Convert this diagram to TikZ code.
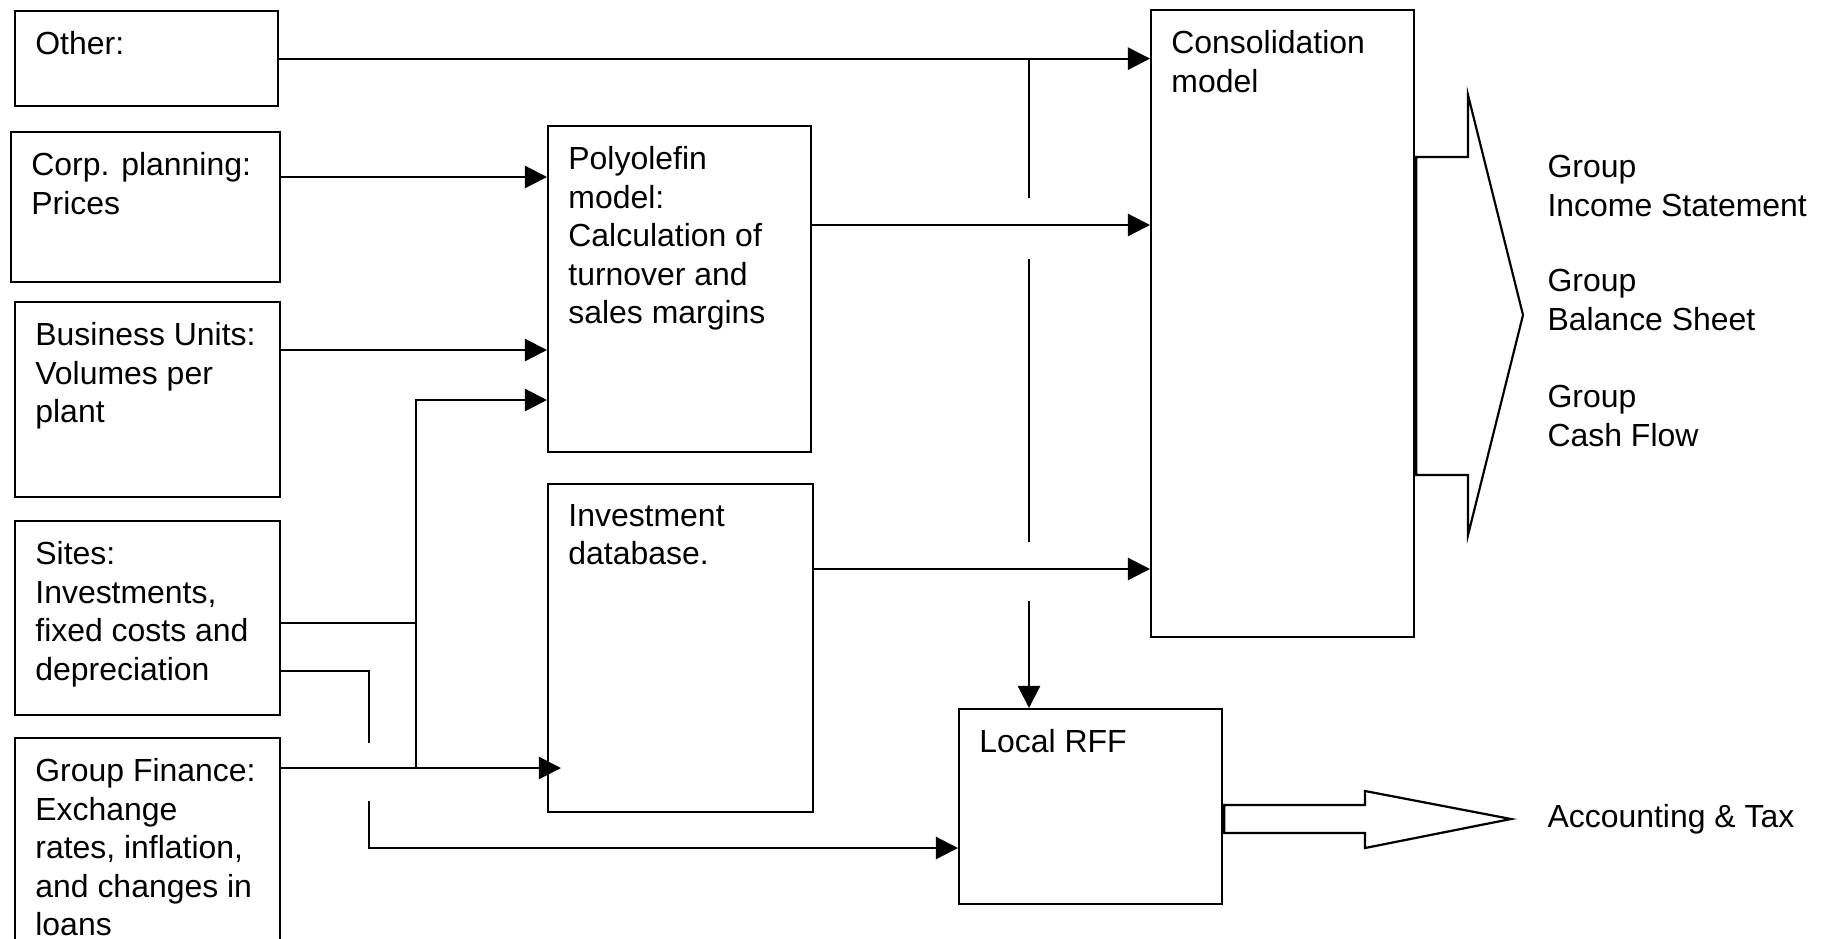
\documentclass[tikz,border=0pt]{standalone}
\usepackage{fontspec}
\setmainfont{Liberation Sans}
\usepackage{tikz}
\usetikzlibrary{arrows.meta,positioning}

\begin{document}
\begin{tikzpicture}[
    x=0.36pt, y=-0.36pt,
    font=\fontsize{11.5}{13.86}\selectfont,
    box/.style={rectangle, draw, line width=0.8pt, anchor=north west, inner sep=0pt},
    txt/.style={align=left, inner sep=7.5pt},
    result/.style={align=left, anchor=west, inner sep=0pt},
    link/.style={line width=0.8pt},
    arrow/.style={link, -{Triangle[length=8pt, width=8pt]}},
    fat/.style={draw, line width=0.8pt, line join=miter}
]
    \useasboundingbox (0,0) rectangle (1829,938);

    % sources
    \node[box, minimum width=94.68pt, minimum height=34.2pt] (other) at (14,10) {};
    \node[box, minimum width=96.84pt, minimum height=54pt] (corp) at (10,131) {};
    \node[box, minimum width=95.4pt, minimum height=70.2pt] (bu) at (14,301) {};
    \node[box, minimum width=95.4pt, minimum height=69.84pt] (sites) at (14,520) {};
    \node[box, minimum width=95.4pt, minimum height=74.52pt] (gf) at (14,737) {};

    % models
    \node[box, minimum width=94.68pt, minimum height=117.36pt] (poly) at (547,125) {};
    \node[box, minimum width=95.4pt, minimum height=118.08pt] (invest) at (547,483) {};
    \node[box, minimum width=94.68pt, minimum height=225.72pt] (consol) at (1150,9) {};
    \node[box, minimum width=94.68pt, minimum height=70.2pt] (rff) at (958,708) {};

    % box texts
    \node[txt, below right=0pt of other.north west] (other-t) {Other:};
    \node[txt, below right=0pt of corp.north west] (corp-t) {Corp. planning:\\Prices};
    \node[txt, below right=0pt of bu.north west] (bu-t) {Business Units:\\Volumes per\\plant};
    \node[txt, below right=0pt of sites.north west] (sites-t) {Sites:\\Investments,\\fixed costs and\\depreciation};
    \node[txt, below right=0pt of gf.north west] (gf-t) {Group Finance:\\Exchange\\rates, inflation,\\and changes in\\loans};
    \node[txt, below right=0pt of poly.north west] (poly-t) {Polyolefin\\model:\\Calculation of\\turnover and\\sales margins};
    \node[txt, below right=0pt of invest.north west] (invest-t) {Investment\\database.};
    \node[txt, below right=0pt of consol.north west] (consol-t) {Consolidation\\model};
    \node[txt, below right=0pt of rff.north west] (rff-t) {Local RFF};

    % outputs
    \node[result] (res-is) at (1547,186) {Group\\Income Statement};
    \node[result] (res-bs) at (1547,300) {Group\\Balance Sheet};
    \node[result] (res-cf) at (1547,416) {Group\\Cash Flow};
    \node[result] (res-at) at (1547,819) {Accounting \& Tax};

    \coordinate (jx) at (416,400);
    \coordinate (gfend) at (561,768);
    \coordinate (hop1) at (369,743);
    \coordinate (hop2) at (369,801);

    % feeds
    \draw[arrow] (other.east) -- (other.east -| consol.west);
    \draw[arrow] (corp.east |- 0,177) -- (poly.west |- 0,177);
    \draw[arrow] (bu.east |- 0,350) -- (poly.west |- 0,350);
    \draw[arrow] (poly.east |- 0,225) -- (consol.west |- 0,225);
    \draw[arrow] (invest.east |- 0,569) -- (consol.west |- 0,569);

    \draw[link] (sites.east |- 0,623) -- (jx |- 0,623);
    \draw[arrow] (jx |- gfend) -- (jx) -- (jx -| poly.west);
    \draw[arrow] (gf.east |- gfend) -- (gfend);
    \draw[link] (sites.east |- 0,671) -| (hop1);
    \draw[arrow] (hop2) |- (rff.west |- 0,848);

    % tap down to Local RFF
    \draw[link] (other.east -| 1029,0) -- (1029,198);
    \draw[link] (1029,259) -- (1029,542);
    \draw[arrow] (1029,601) -- (rff.north -| 1029,0);

    % block arrows
    \draw[fat] ([xshift=0.35pt]consol.east |- 0,157) -- (1468,157) -- (1468,95) -- (1523,315)
        -- (1468,535) -- (1468,475) -- ([xshift=0.35pt]consol.east |- 0,475) -- cycle;
    \draw[fat] ([xshift=0.35pt]rff.east |- 0,805) -- (1365,805) -- (1365,791) -- (1511,819)
        -- (1365,848) -- (1365,833) -- ([xshift=0.35pt]rff.east |- 0,833) -- cycle;
\end{tikzpicture}
\end{document}
